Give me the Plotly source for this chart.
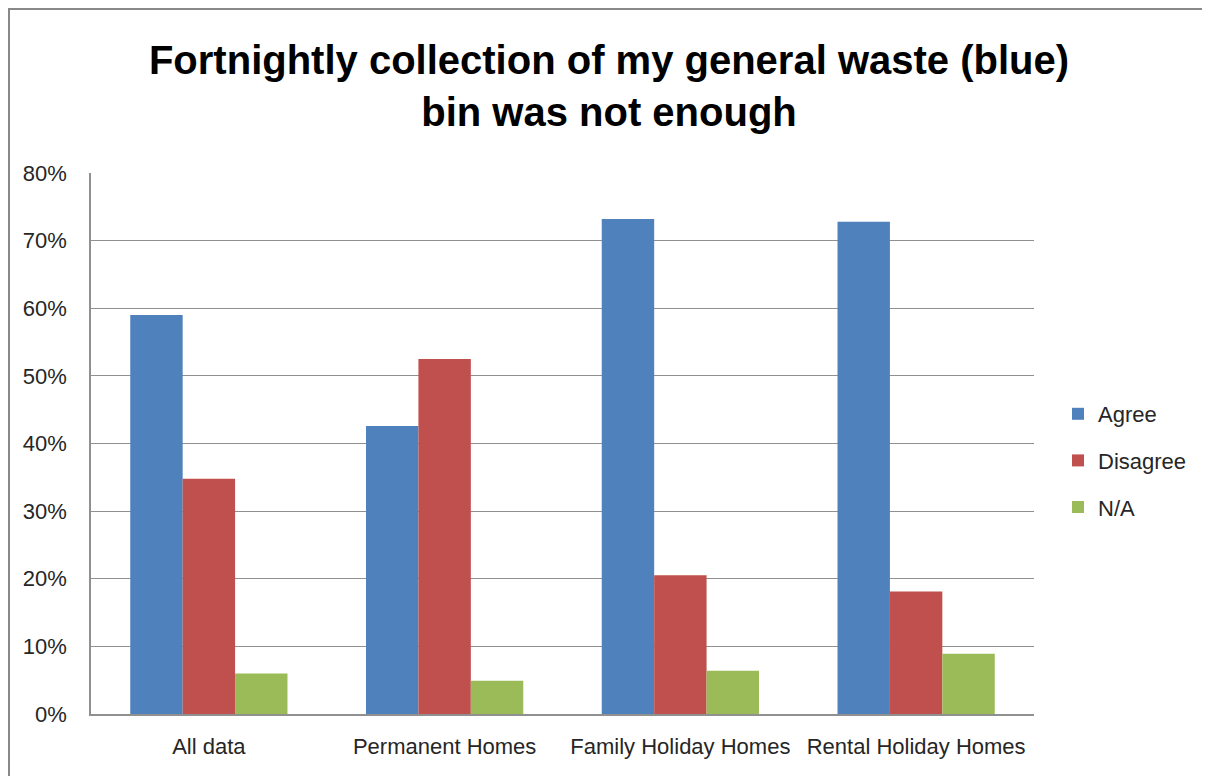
import plotly.graph_objects as go

categories = ["All data", "Permanent Homes", "Family Holiday Homes", "Rental Holiday Homes"]
agree = [0.590, 0.426, 0.732, 0.728]
disagree = [0.348, 0.525, 0.205, 0.181]
na = [0.060, 0.049, 0.064, 0.089]
series_names = ["Agree", "Disagree", "N/A"]
series_colors = ["#4F81BD", "#C0504D", "#9BBB59"]
tick_vals = [0, 0.1, 0.2, 0.3, 0.4, 0.5, 0.6, 0.7, 0.8]
tick_text = ["0%", "10%", "20%", "30%", "40%", "50%", "60%", "70%", "80%"]

FONT = "Liberation Sans"

fig = go.Figure()
for name, vals, col in zip(series_names, [agree, disagree, na], series_colors):
    fig.add_trace(go.Bar(x=categories, y=vals, name=name, marker_color=col,
                         marker_line_width=0, legendgroup=name))

# page body has an 8px margin; figure coordinates are page coordinates minus 8
OFF = 8
W, H = 1210 - OFF, 776 - OFF
L, R, T, B = 91 - OFF, 1034 - OFF, 173 - OFF, 714 - OFF
pw, ph = R - L, B - T

fig.update_layout(
    width=W, height=H,
    margin=dict(l=L, r=W - R, t=T, b=H - B),
    paper_bgcolor="white", plot_bgcolor="white",
    barmode="group", bargap=0.333, bargroupgap=0,
    title=dict(text="<b>Fortnightly collection of my general waste (blue)<br>bin was not enough</b>",
               x=0.5, xref="container", xanchor="center",
               y=1 - (74 - OFF) / H, yanchor="middle",
               font=dict(family=FONT, size=40, color="black")),
    font=dict(family=FONT, size=22, color="#262626"),
    legend=dict(x=(1058 - OFF - L) / pw, y=1 - (393 - OFF - T) / ph,
                xanchor="left", yanchor="top",
                font=dict(size=22, color="#262626"), tracegroupgap=15,
                bgcolor="rgba(0,0,0,0)"),
    showlegend=True,
)
fig.update_xaxes(showgrid=False, showline=True, linecolor="#909090", linewidth=1.5,
                 ticks="", tickfont=dict(size=22, color="#262626"), ticklabelstandoff=12)
fig.update_yaxes(range=[0, 0.8], tickvals=tick_vals, ticktext=tick_text,
                 showgrid=True, gridcolor="#909090", gridwidth=1.2,
                 showline=True, linecolor="#909090", linewidth=1.5,
                 ticks="", tickfont=dict(size=22, color="#262626"),
                 ticklabelstandoff=18, zeroline=False)
# outer chart border
fig.add_shape(type="rect", xref="paper", yref="paper",
              x0=(1 - L) / pw, x1=(1250 - L) / pw, y0=-(H + 20 - B) / ph, y1=1 + (T - 1) / ph,
              line=dict(color="#888888", width=2), layer="below")

fig.write_html("out.html")
